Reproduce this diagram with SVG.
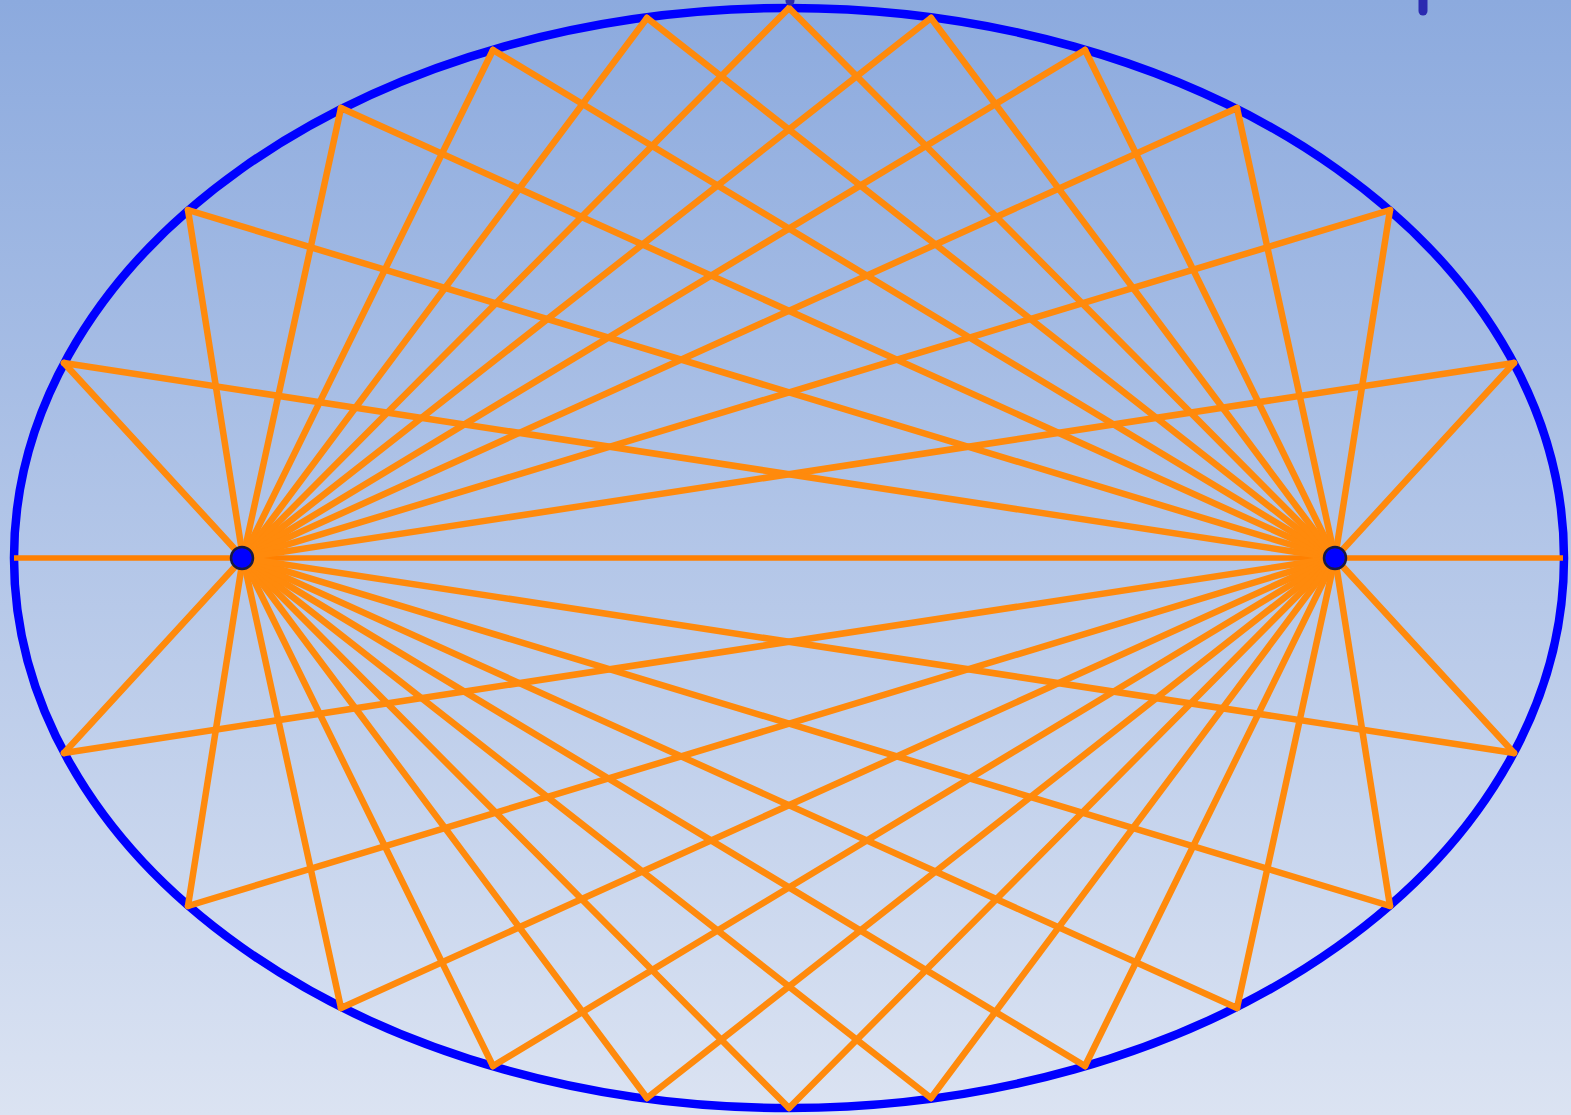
<svg xmlns="http://www.w3.org/2000/svg" width="1571" height="1115" viewBox="0 0 1571 1115">
<defs>
<linearGradient id="bg" x1="0" y1="0" x2="0" y2="1">
<stop offset="0" stop-color="#8caade"/>
<stop offset="1" stop-color="#dbe3f2"/>
</linearGradient>
</defs>
<style>
.ray{stroke:#ff8a0c;stroke-width:6.5;fill:none;stroke-linecap:round}
.axis{stroke:#ff8000;stroke-width:5.5}
.ell{fill:none;stroke:#0000ff;stroke-width:8.5}
.focus{fill:#0000ff;stroke:#1a1a40;stroke-width:2.5}
.tick{stroke:#2a2ab0;stroke-width:9;stroke-linecap:round}
</style>
<rect width="1571" height="1115" fill="url(#bg)"/>
<g id="ellipse">
<ellipse class="ell" cx="789" cy="558" rx="775" ry="550"/>
</g>
<g id="connectors">
<line class="axis" x1="14" y1="558" x2="1563" y2="558"/>
<g id="rays-left">
<line class="ray" x1="243" y1="558" x2="64" y2="363"/>
<line class="ray" x1="243" y1="558" x2="188" y2="210"/>
<line class="ray" x1="243" y1="558" x2="341" y2="108"/>
<line class="ray" x1="243" y1="558" x2="493" y2="50"/>
<line class="ray" x1="243" y1="558" x2="647" y2="18"/>
<line class="ray" x1="243" y1="558" x2="789" y2="8"/>
<line class="ray" x1="243" y1="558" x2="931" y2="18"/>
<line class="ray" x1="243" y1="558" x2="1085" y2="50"/>
<line class="ray" x1="243" y1="558" x2="1237" y2="108"/>
<line class="ray" x1="243" y1="558" x2="1390" y2="210"/>
<line class="ray" x1="243" y1="558" x2="1514" y2="363"/>
<line class="ray" x1="243" y1="558" x2="64" y2="753"/>
<line class="ray" x1="243" y1="558" x2="188" y2="906"/>
<line class="ray" x1="243" y1="558" x2="341" y2="1008"/>
<line class="ray" x1="243" y1="558" x2="493" y2="1066"/>
<line class="ray" x1="243" y1="558" x2="647" y2="1098"/>
<line class="ray" x1="243" y1="558" x2="789" y2="1108"/>
<line class="ray" x1="243" y1="558" x2="931" y2="1098"/>
<line class="ray" x1="243" y1="558" x2="1085" y2="1066"/>
<line class="ray" x1="243" y1="558" x2="1237" y2="1008"/>
<line class="ray" x1="243" y1="558" x2="1390" y2="906"/>
<line class="ray" x1="243" y1="558" x2="1514" y2="753"/>
</g>
<g id="rays-right">
<line class="ray" x1="1335" y1="558" x2="64" y2="363"/>
<line class="ray" x1="1335" y1="558" x2="188" y2="210"/>
<line class="ray" x1="1335" y1="558" x2="341" y2="108"/>
<line class="ray" x1="1335" y1="558" x2="493" y2="50"/>
<line class="ray" x1="1335" y1="558" x2="647" y2="18"/>
<line class="ray" x1="1335" y1="558" x2="789" y2="8"/>
<line class="ray" x1="1335" y1="558" x2="931" y2="18"/>
<line class="ray" x1="1335" y1="558" x2="1085" y2="50"/>
<line class="ray" x1="1335" y1="558" x2="1237" y2="108"/>
<line class="ray" x1="1335" y1="558" x2="1390" y2="210"/>
<line class="ray" x1="1335" y1="558" x2="1514" y2="363"/>
<line class="ray" x1="1335" y1="558" x2="64" y2="753"/>
<line class="ray" x1="1335" y1="558" x2="188" y2="906"/>
<line class="ray" x1="1335" y1="558" x2="341" y2="1008"/>
<line class="ray" x1="1335" y1="558" x2="493" y2="1066"/>
<line class="ray" x1="1335" y1="558" x2="647" y2="1098"/>
<line class="ray" x1="1335" y1="558" x2="789" y2="1108"/>
<line class="ray" x1="1335" y1="558" x2="931" y2="1098"/>
<line class="ray" x1="1335" y1="558" x2="1085" y2="1066"/>
<line class="ray" x1="1335" y1="558" x2="1237" y2="1008"/>
<line class="ray" x1="1335" y1="558" x2="1390" y2="906"/>
<line class="ray" x1="1335" y1="558" x2="1514" y2="753"/>
</g>
</g>
<g id="focus-left">
<circle class="focus" cx="242" cy="558" r="11"/>
</g>
<g id="focus-right">
<circle class="focus" cx="1335" cy="558" r="11"/>
</g>
<g id="marks">
<line class="tick" x1="1423" y1="-5" x2="1423" y2="11"/>
<line class="tick" x1="790" y1="-8" x2="790" y2="1"/>
</g>
</svg>
